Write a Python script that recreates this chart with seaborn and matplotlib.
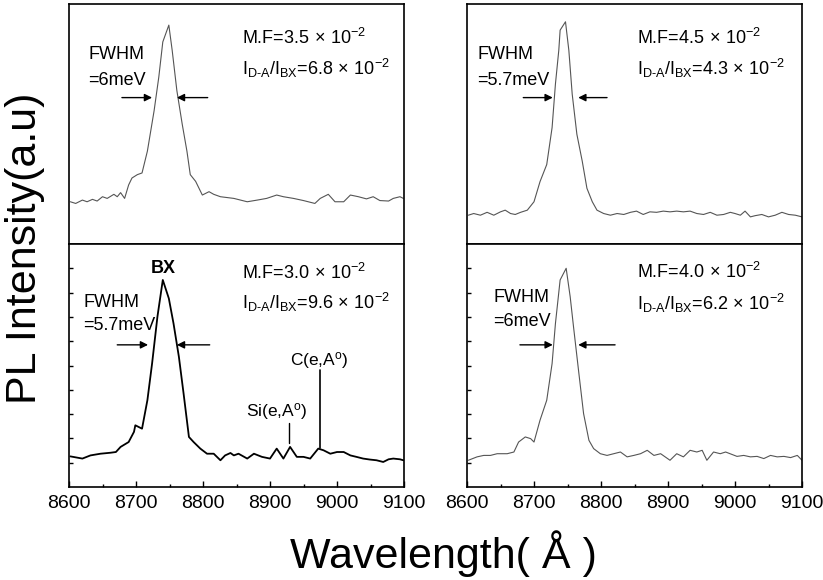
import numpy as np
import pandas as pd
import matplotlib
matplotlib.use("Agg")
import matplotlib.pyplot as plt
import seaborn as sns

# ---------------- data ----------------
tl_wl = [8602, 8610, 8620, 8627, 8635, 8642, 8650, 8657, 8667, 8672, 8677, 8683, 8689, 8694,
         8702, 8709, 8717, 8727, 8734, 8740, 8749, 8754, 8761, 8769, 8776, 8781, 8789, 8799,
         8809, 8816, 8826, 8846, 8866, 8881, 8895, 8910, 8920, 8935, 8950, 8967, 8975, 8987,
         8997, 9010, 9020, 9032, 9044, 9054, 9064, 9077, 9084, 9094, 9099]
tl_int = [0.176, 0.169, 0.183, 0.176, 0.186, 0.179, 0.197, 0.190, 0.207, 0.197, 0.214, 0.190,
          0.246, 0.275, 0.289, 0.296, 0.387, 0.555, 0.695, 0.842, 0.912, 0.807, 0.639, 0.499,
          0.387, 0.289, 0.261, 0.204, 0.218, 0.207, 0.197, 0.190, 0.176, 0.183, 0.190, 0.204,
          0.197, 0.190, 0.181, 0.169, 0.190, 0.207, 0.176, 0.176, 0.204, 0.197, 0.188, 0.197,
          0.181, 0.179, 0.190, 0.197, 0.190]

bl_wl = [8602, 8620, 8632, 8647, 8662, 8670, 8677, 8689, 8697, 8699, 8709, 8717, 8724, 8732,
         8740, 8749, 8756, 8764, 8771, 8779, 8786, 8796, 8806, 8816, 8826, 8833, 8841, 8846,
         8853, 8866, 8876, 8888, 8900, 8910, 8920, 8930, 8940, 8950, 8960, 8972, 8980, 8990,
         9000, 9010, 9020, 9029, 9039, 9049, 9059, 9069, 9077, 9084, 9094, 9099]
bl_int = [0.126, 0.117, 0.130, 0.137, 0.141, 0.144, 0.165, 0.185, 0.227, 0.254, 0.240, 0.357,
          0.508, 0.701, 0.852, 0.776, 0.673, 0.536, 0.385, 0.206, 0.185, 0.158, 0.137, 0.137,
          0.110, 0.130, 0.140, 0.130, 0.137, 0.117, 0.137, 0.124, 0.117, 0.158, 0.117, 0.165,
          0.124, 0.124, 0.117, 0.158, 0.151, 0.137, 0.144, 0.144, 0.130, 0.124, 0.117, 0.113,
          0.110, 0.103, 0.114, 0.117, 0.114, 0.110]

tr_wl = [8602, 8610, 8620, 8630, 8640, 8650, 8657, 8665, 8672, 8680, 8690, 8700, 8709, 8719,
         8727, 8732, 8737, 8739, 8747, 8752, 8757, 8764, 8772, 8779, 8787, 8794, 8804, 8814,
         8824, 8834, 8844, 8853, 8863, 8873, 8883, 8893, 8903, 8913, 8923, 8933, 8943, 8953,
         8963, 8973, 8983, 8993, 9000, 9008, 9015, 9023, 9030, 9040, 9050, 9060, 9070, 9080,
         9090, 9100]
tr_int = [0.120, 0.127, 0.120, 0.132, 0.120, 0.134, 0.141, 0.127, 0.123, 0.132, 0.141, 0.176,
          0.260, 0.331, 0.485, 0.667, 0.807, 0.891, 0.926, 0.807, 0.625, 0.457, 0.345, 0.232,
          0.176, 0.141, 0.127, 0.120, 0.127, 0.123, 0.132, 0.137, 0.123, 0.134, 0.132, 0.137,
          0.134, 0.137, 0.134, 0.137, 0.127, 0.123, 0.132, 0.120, 0.123, 0.132, 0.127, 0.120,
          0.137, 0.113, 0.118, 0.123, 0.113, 0.120, 0.132, 0.123, 0.120, 0.113]

br_wl = [8602, 8615, 8625, 8635, 8645, 8660, 8670, 8677, 8687, 8695, 8700, 8709, 8719, 8727,
         8732, 8739, 8748, 8754, 8759, 8767, 8774, 8782, 8789, 8799, 8809, 8819, 8829, 8839,
         8849, 8859, 8869, 8879, 8889, 8903, 8913, 8923, 8933, 8943, 8951, 8958, 8968, 8978,
         8986, 9003, 9013, 9023, 9033, 9043, 9053, 9063, 9073, 9083, 9093, 9100]
br_int = [0.110, 0.124, 0.130, 0.130, 0.137, 0.137, 0.144, 0.185, 0.206, 0.199, 0.185, 0.275,
          0.357, 0.508, 0.673, 0.852, 0.900, 0.783, 0.659, 0.467, 0.302, 0.192, 0.158, 0.137,
          0.130, 0.137, 0.144, 0.124, 0.130, 0.137, 0.151, 0.130, 0.137, 0.110, 0.137, 0.124,
          0.151, 0.144, 0.151, 0.110, 0.144, 0.137, 0.144, 0.126, 0.130, 0.124, 0.126, 0.117,
          0.130, 0.124, 0.126, 0.121, 0.130, 0.110]

panel_mf = ["3.5", "3.0", "4.5", "4.0"]
panel_ratio = ["6.8", "9.6", "4.3", "6.2"]
panel_fwhm = ["6", "5.7", "5.7", "6"]
x_ticks = [8600, 8700, 8800, 8900, 9000, 9100]

# ---------------- style ----------------
sns.set_theme(style="ticks")
plt.rcParams["font.family"] = ["Liberation Sans", "DejaVu Sans"]
plt.rcParams["mathtext.fontset"] = "custom"
plt.rcParams["mathtext.rm"] = "Liberation Sans"
plt.rcParams["mathtext.it"] = "Liberation Sans:italic"
plt.rcParams["mathtext.bf"] = "Liberation Sans:bold"
plt.rcParams["text.color"] = "black"
plt.rcParams["xtick.color"] = "black"
plt.rcParams["ytick.color"] = "black"
plt.rcParams["axes.labelcolor"] = "black"

fig = plt.figure(figsize=(8.23, 5.80), dpi=100)
W, H = 823.0, 580.0
def add_ax(x0, x1, y0, y1):
    return fig.add_axes([x0 / W, 1 - y1 / H, (x1 - x0) / W, (y1 - y0) / H])

ax_tl = add_ax(69, 404, 4, 244)
ax_bl = add_ax(69, 404, 244, 487)
ax_tr = add_ax(467, 802, 4, 244)
ax_br = add_ax(467, 802, 244, 487)

panels = [
    (ax_tl, tl_wl, tl_int, "#555555", 0.8),
    (ax_bl, bl_wl, bl_int, "black", 1.3),
    (ax_tr, tr_wl, tr_int, "#555555", 0.8),
    (ax_br, br_wl, br_int, "#555555", 0.8),
]
for ax, wl, it, col, lw in panels:
    df = pd.DataFrame({"wl": wl, "I": it})
    sns.lineplot(data=df, x="wl", y="I", ax=ax, color=col, linewidth=lw,
                 estimator=None, sort=False)
    ax.set_xlim(8600, 9100)
    ax.set_ylim(0, 1)
    ax.set_xlabel("")
    ax.set_ylabel("")
    for s in ax.spines.values():
        s.set_visible(True)
        s.set_color("black")
        s.set_linewidth(1.2)
    ax.set_facecolor("white")

for ax in (ax_tl, ax_tr):
    ax.set_xticks([])
    ax.set_yticks([])

for ax in (ax_bl, ax_br):
    ax.set_xticks(x_ticks)
    ax.set_xticklabels([str(t) for t in x_ticks], fontsize=14)
    ax.set_xticks(np.arange(8650, 9100, 100), minor=True)
    ax.set_yticks(np.arange(0.1, 0.95, 0.1))
    ax.set_yticklabels([])
    ax.tick_params(axis="x", which="major", direction="in", length=4, width=1, pad=6,
                   colors="black")
    ax.tick_params(axis="x", which="minor", direction="in", length=2.5, width=1)
    ax.tick_params(axis="y", which="major", direction="in", length=3, width=1)

# ---------------- annotations ----------------
fs_fw = 13
fs_mf = 13
times = r"$\,\times\,$10$^{-2}$"
text_pos = {
    ax_tl: dict(fw=(0.057, 0.79), ev=(0.057, 0.68), mf=(0.516, 0.86), ra=(0.516, 0.73),
                arr=(8679, 8724, 8807, 8761, 0.61)),
    ax_bl: dict(fw=(0.042, 0.76), ev=(0.042, 0.665), mf=(0.516, 0.88), ra=(0.516, 0.76),
                arr=(8672, 8718, 8810, 8761, 0.585)),
    ax_tr: dict(fw=(0.03, 0.79), ev=(0.03, 0.68), mf=(0.507, 0.857), ra=(0.507, 0.73),
                arr=(8684, 8728, 8809, 8766, 0.61)),
    ax_br: dict(fw=(0.078, 0.78), ev=(0.078, 0.68), mf=(0.507, 0.885), ra=(0.507, 0.757),
                arr=(8679, 8728, 8821, 8766, 0.585)),
}
for i, ax in enumerate([ax_tl, ax_bl, ax_tr, ax_br]):
    p = text_pos[ax]
    ax.text(*p["fw"], "FWHM", transform=ax.transAxes, fontsize=fs_fw, ha="left", va="center")
    ax.text(*p["ev"], "=" + panel_fwhm[i] + "meV", transform=ax.transAxes, fontsize=fs_fw,
            ha="left", va="center")
    ax.text(*p["mf"], r"M.F=" + panel_mf[i] + times, transform=ax.transAxes,
            fontsize=fs_mf, ha="left", va="center")
    ax.text(*p["ra"], r"I$_{\mathrm{D\text{-}A}}$/I$_{\mathrm{BX}}$=" + panel_ratio[i]
            + times, transform=ax.transAxes, fontsize=fs_mf,
            ha="left", va="center")
    x0, x1, x2, x3, ya = p["arr"]
    ap = dict(arrowstyle="-|>", color="black", lw=1.0, mutation_scale=11,
              shrinkA=0, shrinkB=0)
    ax.annotate("", xy=(x1, ya), xytext=(x0, ya), arrowprops=ap)
    ax.annotate("", xy=(x3, ya), xytext=(x2, ya), arrowprops=ap)

ax_bl.text(0.28, 0.90, "BX", transform=ax_bl.transAxes, fontsize=13, fontweight="bold",
           ha="center", va="center")
ax_bl.text(8973, 0.52, r"C(e,A$^{\mathrm{o}}$)", fontsize=12.5, ha="center", va="center")
ax_bl.plot([8975, 8975], [0.48, 0.16], color="black", lw=1.2)
ax_bl.text(8910, 0.31, r"Si(e,A$^{\mathrm{o}}$)", fontsize=12.5, ha="center", va="center")
ax_bl.plot([8928, 8928], [0.265, 0.18], color="black", lw=1.0)

fig.text(0.030, 0.572, "PL Intensity(a.u)", rotation=90, fontsize=31,
         ha="center", va="center")
fig.text(0.539, 0.045, "Wavelength( Å )", fontsize=31, ha="center", va="center")

fig.savefig("out.png", dpi=100, facecolor="white")
